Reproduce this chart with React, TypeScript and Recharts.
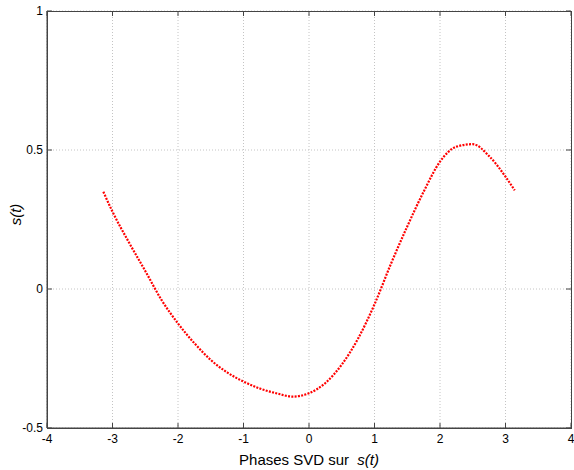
import { LineChart, Line, XAxis, YAxis, CartesianGrid, Label } from "recharts";

// phases, t from -pi to pi
const tValues = [
  -3.14, -3, -2.75, -2.5, -2.25, -2, -1.75, -1.5, -1.25, -1, -0.75, -0.5, -0.25,
  0, 0.25, 0.5, 0.75, 1, 1.25, 1.5, 1.75, 2, 2.25, 2.5, 2.75, 3, 3.14,
];
const sValues = [
  0.35, 0.278, 0.168, 0.065, -0.04, -0.124, -0.195, -0.255, -0.3, -0.333, -0.358,
  -0.375, -0.387, -0.375, -0.338, -0.272, -0.178, -0.055, 0.09, 0.225, 0.35, 0.458,
  0.512, 0.521, 0.478, 0.404, 0.355,
];

const xTicks = [-4, -3, -2, -1, 0, 1, 2, 3, 4];
const yTicks = [-0.5, 0, 0.5, 1];

const data = tValues.map((t, i) => ({ t, s: sValues[i] }));

const FONT = "'Liberation Sans', Arial, sans-serif";
const AXIS = "#444";

// plot box (matches chart margins below)
const W = 574;
const H = 470;
const TOP = 11;
const RIGHT = 3;
const LEFT = 47;
const BOTTOM = 42;
const TICK = 5;

const XTick = (props: any) => {
  const { x, payload } = props;
  const yb = H - BOTTOM;
  return (
    <g>
      <path d={`M${x},${yb}V${yb - TICK}M${x},${TOP}V${TOP + TICK}`} stroke={AXIS} strokeWidth={1} fill="none" />
      <text x={x} y={yb + 15} textAnchor="middle" fontSize={12} fontFamily={FONT} fill="#000">
        {payload.value}
      </text>
    </g>
  );
};

const YTick = (props: any) => {
  const { y, payload } = props;
  const xr = W - RIGHT;
  return (
    <g>
      <path d={`M${LEFT},${y}H${LEFT + TICK}M${xr},${y}H${xr - TICK}`} stroke={AXIS} strokeWidth={1} fill="none" />
      <text x={LEFT - 4} y={y + 4} textAnchor="end" fontSize={12} fontFamily={FONT} fill="#000">
        {payload.value}
      </text>
    </g>
  );
};

const XTitle = (props: any) => {
  const vb = props.viewBox;
  const cx = vb.x + vb.width / 2;
  return (
    <text x={cx} y={vb.y + 37} textAnchor="middle" fontFamily={FONT} fontSize={15} fill="#000">
      Phases SVD sur{" "}
      <tspan fontStyle="italic" dx={4}>s(t)</tspan>
    </text>
  );
};

const YTitle = (props: any) => {
  const vb = props.viewBox;
  const cy = vb.y + vb.height / 2 - 5;
  const x = 21;
  return (
    <text
      x={x}
      y={cy}
      textAnchor="middle"
      fontFamily={FONT}
      fontSize={15}
      fontStyle="italic"
      fill="#000"
      transform={`rotate(-90, ${x}, ${cy})`}
    >
      s(t)
    </text>
  );
};

export default function App() {
  return (
    <div style={{ position: "absolute", left: 0, top: 0, width: W, height: H, background: "#fff" }}>
      <LineChart
        width={W}
        height={H}
        data={data}
        margin={{ top: TOP, right: RIGHT, bottom: 0, left: 0 }}
      >
        <CartesianGrid
          stroke="#c4c4c4"
          strokeDasharray="1 2"
          horizontalValues={yTicks}
          verticalValues={xTicks}
        />
        <XAxis
          dataKey="t"
          type="number"
          domain={[-4, 4]}
          ticks={xTicks}
          height={BOTTOM}
          stroke={AXIS}
          tickLine={false}
          tick={<XTick />}
          interval={0}
        >
          <Label content={XTitle} />
        </XAxis>
        <YAxis
          type="number"
          domain={[-0.5, 1]}
          ticks={yTicks}
          width={LEFT}
          stroke={AXIS}
          tickLine={false}
          tick={<YTick />}
          interval={0}
        >
          <Label content={YTitle} />
        </YAxis>
        <Line
          type="monotone"
          dataKey="s"
          stroke="#ff0000"
          strokeWidth={2.2}
          strokeDasharray="2 1.3"
          dot={false}
          isAnimationActive={false}
        />
      </LineChart>
      {/* box frame around the plot area */}
      <div
        style={{
          position: "absolute",
          left: LEFT,
          top: TOP,
          width: W - LEFT - RIGHT - 1,
          height: H - TOP - BOTTOM - 1,
          border: `1px solid ${AXIS}`,
          pointerEvents: "none",
        }}
      />
    </div>
  );
}
